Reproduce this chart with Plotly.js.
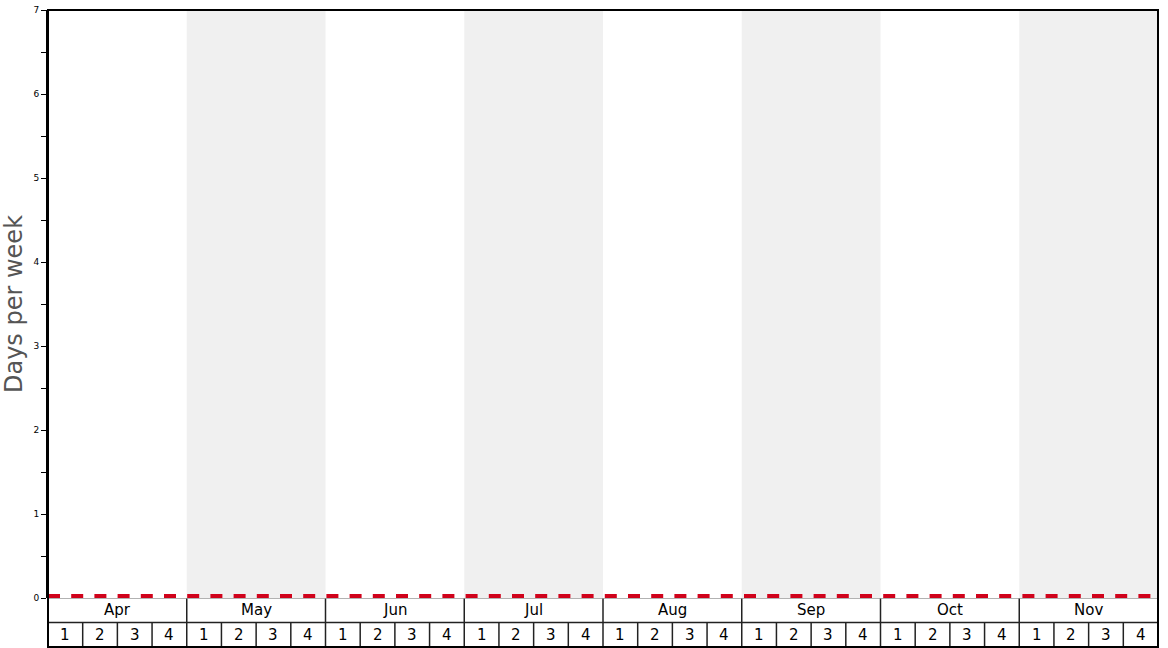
<!DOCTYPE html>
<html>
<head>
<meta charset="utf-8">
<script src="https://cdn.plot.ly/plotly-3.0.1.min.js"></script>
<style>
  html, body { margin: 0; padding: 0; background: #fff; }
  #chart { width: 1168px; height: 648px; }
</style>
</head>
<body>
<div id="chart"></div>
<script>
// months shown in the table under the plot, 4 weeks each
const months = ['Apr', 'May', 'Jun', 'Jul', 'Aug', 'Sep', 'Oct', 'Nov'];
const weekLabels = ['1', '2', '3', '4'];
// days per week, one value per week (Apr wk1 .. Nov wk4)
const daysPerWeek = [
  0, 0, 0, 0, 0, 0, 0, 0,
  0, 0, 0, 0, 0, 0, 0, 0,
  0, 0, 0, 0, 0, 0, 0, 0,
  0, 0, 0, 0, 0, 0, 0, 0,
];
const yTicks = [0, 1, 2, 3, 4, 5, 6, 7];

const nWeeks = months.length * weekLabels.length;

// step line over each week's span
const lineX = daysPerWeek.map((_, i) => i).concat([nWeeks]);
const lineY = daysPerWeek.concat([daysPerWeek[daysPerWeek.length - 1]]);

const trace = {
  type: 'scatter',
  mode: 'lines',
  x: lineX,
  y: lineY,
  line: { color: 'rgb(208,2,27)', width: 8, dash: '12px,11.2px', shape: 'hv' },
  hoverinfo: 'skip',
  xaxis: 'x',
  yaxis: 'y',
};

const shapes = [];
const annotations = [];

// grey bands behind every second month
months.forEach((m, i) => {
  if (i % 2 === 1) {
    shapes.push({
      type: 'rect', layer: 'below', xref: 'x', yref: 'y',
      x0: i * 4, x1: i * 4 + 4, y0: 0, y1: 7,
      fillcolor: '#f0f0f0', line: { width: 0 },
    });
  }
  annotations.push({
    text: m, xref: 'x', yref: 'y2', x: i * 4 + 2, y: 1.5,
    showarrow: false, font: { family: 'DejaVu Sans', size: 15, color: '#000' },
  });
  weekLabels.forEach((w, j) => {
    annotations.push({
      text: w, xref: 'x', yref: 'y2', x: i * 4 + j + 0.5, y: 0.5,
      showarrow: false, font: { family: 'DejaVu Sans', size: 15, color: '#000' },
    });
  });
});

// table grid: month separators on top row, week separators on bottom row
for (let k = 1; k < nWeeks; k++) {
  shapes.push({
    type: 'line', xref: 'x', yref: 'y2', x0: k, x1: k, y0: 0, y1: 1,
    line: { color: '#222', width: 1.5 },
  });
  if (k % 4 === 0) {
    shapes.push({
      type: 'line', xref: 'x', yref: 'y2', x0: k, x1: k, y0: 1, y1: 2,
      line: { color: '#222', width: 1.5 },
    });
  }
}
shapes.push({
  type: 'line', xref: 'x', yref: 'y2', x0: 0, x1: nWeeks, y0: 1, y1: 1,
  line: { color: '#222', width: 1.5 },
});
shapes.push({
  type: 'line', xref: 'x', yref: 'y2', x0: 0, x1: nWeeks, y0: 2, y1: 2,
  line: { color: '#999', width: 1.5 },
});
// outer frame
shapes.push({
  type: 'rect', xref: 'paper', yref: 'paper', x0: 0, x1: 1, y0: 0, y1: 1,
  line: { color: '#000', width: 2 },
});

const layout = {
  width: 1168,
  height: 648,
  margin: { l: 48, r: 10, t: 10, b: 1 },
  paper_bgcolor: '#fff',
  plot_bgcolor: 'rgba(0,0,0,0)',
  showlegend: false,
  xaxis: {
    range: [0, nWeeks],
    showticklabels: false,
    ticks: '',
    showgrid: false,
    zeroline: false,
    showline: false,
    fixedrange: true,
  },
  yaxis: {
    domain: [0.0769, 1],
    range: [0, 7],
    tickvals: yTicks,
    ticks: 'outside',
    ticklen: 5,
    tickwidth: 1,
    tickcolor: '#000',
    tickfont: { family: 'DejaVu Sans', size: 9, color: '#000' },
    minor: { dtick: 0.5, ticks: 'outside', ticklen: 5, tickcolor: '#000', tickwidth: 1, showgrid: false },
    showgrid: false,
    zeroline: false,
    showline: true,
    linecolor: '#000',
    linewidth: 2,
    automargin: false,
    title: {
      text: 'Days per week',
      font: { family: 'DejaVu Sans', size: 24, color: '#555' },
      standoff: 6,
    },
  },
  yaxis2: {
    domain: [0, 0.0769],
    range: [0, 2],
    showticklabels: false,
    ticks: '',
    showgrid: false,
    zeroline: false,
    showline: false,
  },
  shapes,
  annotations,
};

Plotly.newPlot('chart', [trace], layout, { displayModeBar: false, staticPlot: true });
</script>
</body>
</html>
